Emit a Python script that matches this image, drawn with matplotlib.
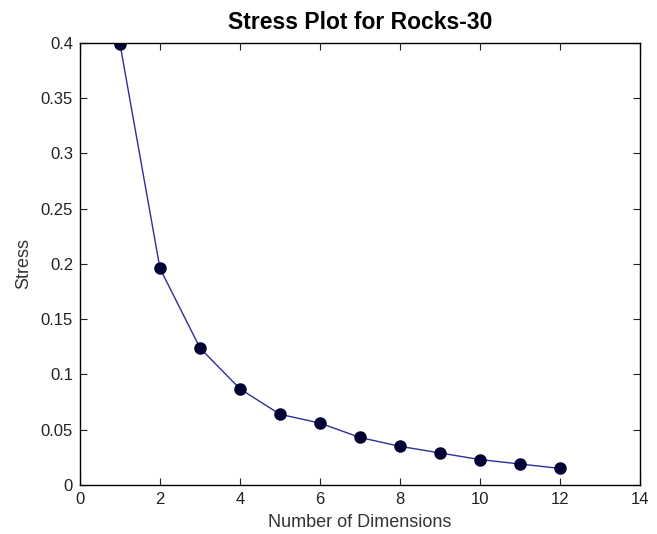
import matplotlib
matplotlib.use("Agg")
import matplotlib.pyplot as plt

dims = [1, 2, 3, 4, 5, 6, 7, 8, 9, 10, 11, 12]
stress = [0.399, 0.196, 0.124, 0.087, 0.064, 0.056, 0.043, 0.035, 0.029, 0.023, 0.019, 0.015]

xticks = [0, 2, 4, 6, 8, 10, 12, 14]
yticks = [0, 0.05, 0.1, 0.15, 0.2, 0.25, 0.3, 0.35, 0.4]
ytick_labels = ["0", "0.05", "0.1", "0.15", "0.2", "0.25", "0.3", "0.35", "0.4"]


def main():
    plt.rcParams["font.family"] = ["Liberation Sans", "DejaVu Sans"]
    fig = plt.figure(figsize=(6.57, 5.34), dpi=100)
    ax = fig.add_axes([0.1218, 0.0918, 0.852, 0.8277])

    ax.plot(dims, stress, color="#2e2e9a", linewidth=1.0,
            marker="o", markersize=8, markerfacecolor="#000033",
            markeredgecolor="#000033")

    ax.set_xlim(0, 14)
    ax.set_ylim(0, 0.4)
    ax.set_xticks(xticks)
    ax.set_yticks(yticks)
    ax.set_yticklabels(ytick_labels)
    ax.tick_params(direction="in", top=True, right=True, length=5,
                   labelsize=12, pad=5, colors="#222222")
    for s in ax.spines.values():
        s.set_linewidth(1.0)

    ax.set_title("Stress Plot for Rocks-30", fontsize=16.5, fontweight="bold", pad=10)
    ax.set_xlabel("Number of Dimensions", fontsize=13, color="#333333", labelpad=5)
    ax.set_ylabel("Stress", fontsize=13, color="#333333", labelpad=6)

    fig.savefig("out.png", dpi=100)


if __name__ == '__main__':
    main()
